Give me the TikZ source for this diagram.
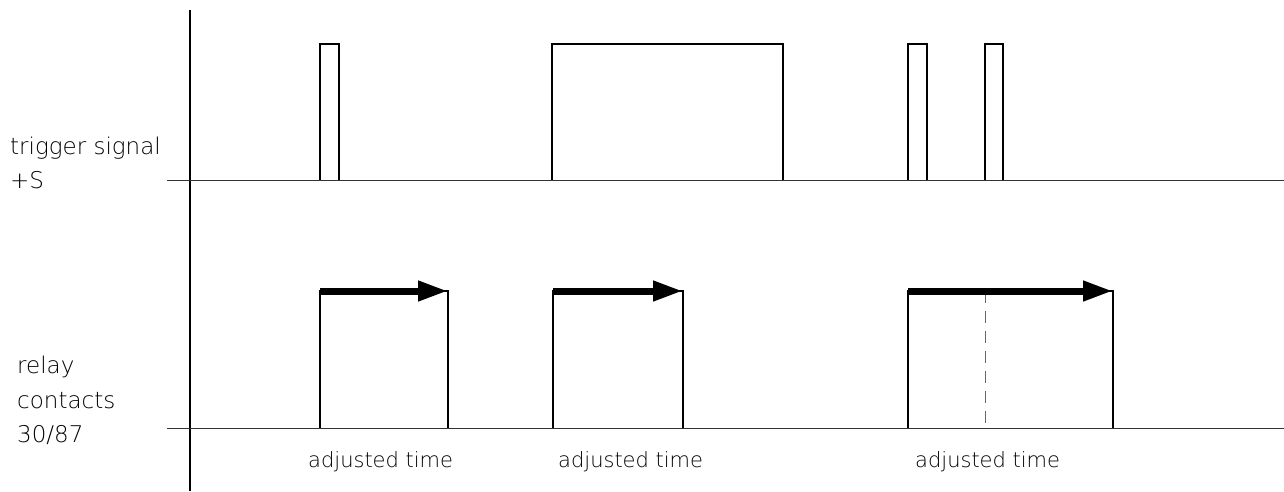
\documentclass[tikz,border=0pt]{standalone}
\usepackage{fontspec}
\setmainfont{DejaVuSans-ExtraLight.ttf}
\usetikzlibrary{arrows.meta}
\begin{document}
\begin{tikzpicture}[x=1pt,y=-1pt,
  axisline/.style={line width=1.8pt,black},
  baseline/.style={line width=1pt,black!80},
  pulse/.style={line width=1.6pt,black},
  timearrow/.style={line width=7pt,-{Triangle[length=30pt,width=19pt]}},
  dashmark/.style={line width=1pt,black!60,dash pattern=on 12pt off 8pt},
  lbl/.style={anchor=base west,inner sep=0pt,font=\fontsize{23}{27}\selectfont},
  tlbl/.style={anchor=base west,inner sep=0pt,font=\fontsize{21}{25}\selectfont}]
\useasboundingbox (0,0) rectangle (1284,491);
\fill[white] (0,0) rectangle (1284,491);
% axes
\coordinate (axT) at (190,10);
\coordinate (axB) at (190,491);
\draw[axisline] (axT) -- (axB);
\coordinate (b1L) at (167,180); \coordinate (b1R) at (1284,180);
\coordinate (b2L) at (167,428); \coordinate (b2R) at (1284,428);
\draw[baseline] (b1L) -- (b1R);
\draw[baseline] (b2L) -- (b2R);
% trigger pulses
\draw[pulse] (320,180) -- (320,44) -- (339,44) -- (339,180);
\draw[pulse] (552,180) -- (552,44) -- (783,44) -- (783,180);
\draw[pulse] (908,180) -- (908,44) -- (927,44) -- (927,180);
\draw[pulse] (985,180) -- (985,44) -- (1003,44) -- (1003,180);
% relay contacts
\coordinate (r1a) at (320,291); \coordinate (r1b) at (448,291);
\coordinate (r2a) at (553,291); \coordinate (r2b) at (683,291);
\coordinate (r3a) at (908,291); \coordinate (r3b) at (1113,291);
\coordinate (dA) at (985,291); \coordinate (dB) at (985,428);
\draw[pulse] (320,428) -- (r1a) -- (r1b) -- (448,428);
\draw[pulse] (553,428) -- (r2a) -- (r2b) -- (683,428);
\draw[pulse] (908,428) -- (r3a) -- (r3b) -- (1113,428);
\draw[dashmark] (dA) -- (dB);
\draw[timearrow] (r1a) -- (r1b);
\draw[timearrow] (r2a) -- (r2b);
\draw[timearrow] (r3a) -- (r3b);
% labels
\node[lbl] (trig) at (10,154) {trigger signal};
\node[lbl] (plusS) at (10,188) {+S};
\node[lbl] (relay) at (17,373) {relay};
\node[lbl] (cont) at (17,408) {contacts};
\node[lbl] (num) at (17,442) {30/87};
\node[tlbl] (adj1) at (308,467) {adjusted time};
\node[tlbl] (adj2) at (558,467) {adjusted time};
\node[tlbl] (adj3) at (915,467) {adjusted time};
\end{tikzpicture}
\end{document}
